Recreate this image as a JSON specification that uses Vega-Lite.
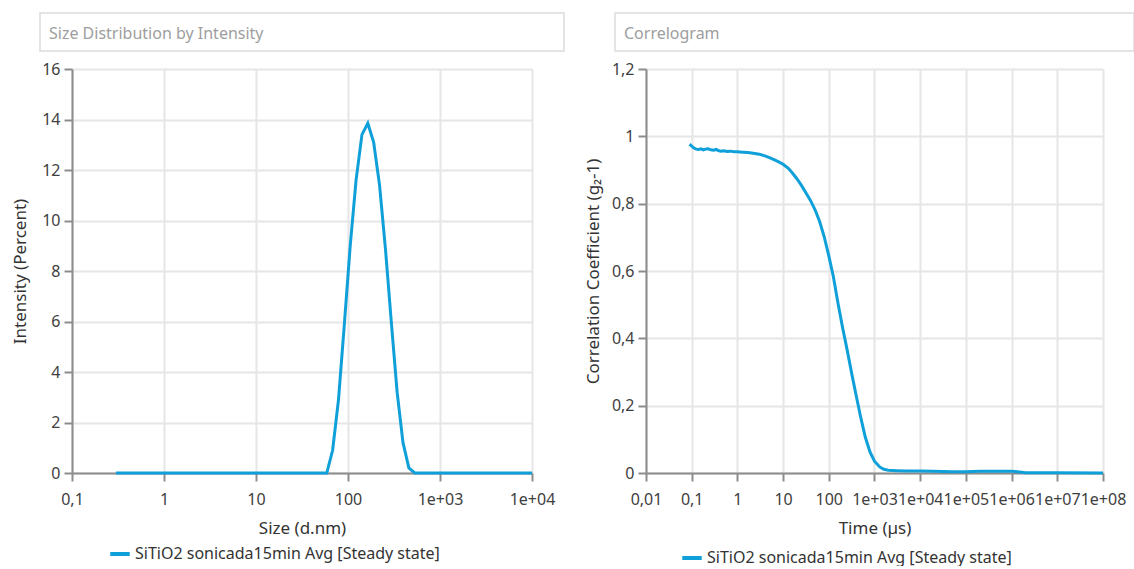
{
  "$schema": "https://vega.github.io/schema/vega-lite/v6.json",
  "background": "white",
  "padding": {"left": 11, "top": 12, "right": 0, "bottom": 0},
  "datasets": {
    "size": [
      {"size": 0.3, "intensity": 0}, {"size": 0.35, "intensity": 0}, {"size": 0.4, "intensity": 0}, {"size": 0.4632, "intensity": 0},
      {"size": 0.5365, "intensity": 0}, {"size": 0.6213, "intensity": 0}, {"size": 0.7195, "intensity": 0}, {"size": 0.8332, "intensity": 0},
      {"size": 0.9649, "intensity": 0}, {"size": 1.117, "intensity": 0}, {"size": 1.294, "intensity": 0}, {"size": 1.499, "intensity": 0},
      {"size": 1.736, "intensity": 0}, {"size": 2.01, "intensity": 0}, {"size": 2.328, "intensity": 0}, {"size": 2.696, "intensity": 0},
      {"size": 3.122, "intensity": 0}, {"size": 3.615, "intensity": 0}, {"size": 4.187, "intensity": 0}, {"size": 4.849, "intensity": 0},
      {"size": 5.615, "intensity": 0}, {"size": 6.503, "intensity": 0}, {"size": 7.531, "intensity": 0}, {"size": 8.721, "intensity": 0},
      {"size": 10.1, "intensity": 0}, {"size": 11.7, "intensity": 0}, {"size": 13.54, "intensity": 0}, {"size": 15.69, "intensity": 0},
      {"size": 18.17, "intensity": 0}, {"size": 21.04, "intensity": 0}, {"size": 24.36, "intensity": 0}, {"size": 28.21, "intensity": 0},
      {"size": 32.67, "intensity": 0}, {"size": 37.84, "intensity": 0}, {"size": 43.82, "intensity": 0}, {"size": 50.75, "intensity": 0},
      {"size": 58.77, "intensity": 0}, {"size": 68.06, "intensity": 0.9}, {"size": 78.82, "intensity": 2.9}, {"size": 91.28, "intensity": 5.9},
      {"size": 105.7, "intensity": 9.0}, {"size": 122.4, "intensity": 11.6}, {"size": 141.8, "intensity": 13.4}, {"size": 164.2, "intensity": 13.85},
      {"size": 190.1, "intensity": 13.1}, {"size": 220.2, "intensity": 11.4}, {"size": 255.0, "intensity": 8.9}, {"size": 295.3, "intensity": 6.0},
      {"size": 342.0, "intensity": 3.2}, {"size": 396.1, "intensity": 1.2}, {"size": 458.7, "intensity": 0.2}, {"size": 531.2, "intensity": 0},
      {"size": 615.1, "intensity": 0}, {"size": 712.4, "intensity": 0}, {"size": 825.0, "intensity": 0}, {"size": 955.4, "intensity": 0},
      {"size": 1106, "intensity": 0}, {"size": 1281, "intensity": 0}, {"size": 1484, "intensity": 0}, {"size": 1718, "intensity": 0},
      {"size": 1990, "intensity": 0}, {"size": 2305, "intensity": 0}, {"size": 2669, "intensity": 0}, {"size": 3091, "intensity": 0},
      {"size": 3580, "intensity": 0}, {"size": 4145, "intensity": 0}, {"size": 4801, "intensity": 0}, {"size": 5560, "intensity": 0},
      {"size": 6439, "intensity": 0}, {"size": 7456, "intensity": 0}, {"size": 8635, "intensity": 0}, {"size": 10000, "intensity": 0}
    ],
    "corr": [
      {"time": 0.09, "g": 0.977}, {"time": 0.1, "g": 0.971}, {"time": 0.11, "g": 0.966}, {"time": 0.125, "g": 0.962},
      {"time": 0.14, "g": 0.961}, {"time": 0.16, "g": 0.963}, {"time": 0.18, "g": 0.96}, {"time": 0.2, "g": 0.962},
      {"time": 0.23, "g": 0.963}, {"time": 0.26, "g": 0.96}, {"time": 0.3, "g": 0.959}, {"time": 0.34, "g": 0.961},
      {"time": 0.38, "g": 0.958}, {"time": 0.43, "g": 0.956}, {"time": 0.5, "g": 0.957}, {"time": 0.6, "g": 0.955},
      {"time": 0.7, "g": 0.956}, {"time": 0.85, "g": 0.954}, {"time": 1.0, "g": 0.954}, {"time": 1.3, "g": 0.953},
      {"time": 1.7, "g": 0.952}, {"time": 2.2, "g": 0.95}, {"time": 3.0, "g": 0.947}, {"time": 4.0, "g": 0.942},
      {"time": 5.0, "g": 0.937}, {"time": 6.5, "g": 0.93}, {"time": 8.0, "g": 0.924}, {"time": 10, "g": 0.917},
      {"time": 13, "g": 0.905}, {"time": 16, "g": 0.891}, {"time": 20, "g": 0.874}, {"time": 25, "g": 0.855},
      {"time": 32, "g": 0.831}, {"time": 40, "g": 0.809}, {"time": 50, "g": 0.782}, {"time": 63, "g": 0.747},
      {"time": 80, "g": 0.7}, {"time": 100, "g": 0.645}, {"time": 126, "g": 0.583}, {"time": 160, "g": 0.502},
      {"time": 200, "g": 0.432}, {"time": 250, "g": 0.368}, {"time": 320, "g": 0.293}, {"time": 400, "g": 0.228},
      {"time": 500, "g": 0.165}, {"time": 630, "g": 0.106}, {"time": 800, "g": 0.062}, {"time": 1000, "g": 0.035},
      {"time": 1300, "g": 0.018}, {"time": 1600, "g": 0.011}, {"time": 2000, "g": 0.008}, {"time": 3000, "g": 0.007},
      {"time": 5000, "g": 0.006}, {"time": 10000, "g": 0.006}, {"time": 20000, "g": 0.005}, {"time": 50000, "g": 0.004},
      {"time": 100000, "g": 0.004}, {"time": 200000, "g": 0.005}, {"time": 500000, "g": 0.005}, {"time": 1000000, "g": 0.005},
      {"time": 1500000, "g": 0.003}, {"time": 2000000, "g": 0.001}, {"time": 10000000, "g": 0.001}, {"time": 100000000, "g": 0.0}
    ]
  },
  "config": {
    "font": "Noto Sans",
    "view": {"stroke": null},
    "axis": {
      "labelFont": "Noto Sans", "labelFontSize": 16, "labelColor": "#404040",
      "titleFont": "Noto Sans", "titleFontSize": 17, "titleFontWeight": "normal", "titleColor": "#333333",
      "domainColor": "#8c8c8c", "domainWidth": 2, "tickColor": "#8c8c8c", "tickWidth": 2, "tickSize": 8,
      "gridColor": "#e6e6e6", "gridWidth": 2
    },
    "legend": {
      "symbolType": "stroke", "symbolSize": 380, "symbolStrokeWidth": 4, "labelLimit": 0,
      "labelFont": "Noto Sans", "labelFontSize": 16, "labelColor": "#333333", "labelOffset": 3, "padding": 0
    },
    "title": {"font": "Noto Sans", "fontSize": 16, "fontWeight": "normal", "color": "#9e9e9e"},
    "locale": {"number": {"decimal": ",", "thousands": ".", "grouping": [3], "currency": ["", " €"]}}
  },
  "resolve": {"scale": {"color": "independent"}, "legend": {"color": "independent"}},
  "spacing": 19,
  "hconcat": [
    {
      "spacing": 18,
      "bounds": "flush",
      "center": true,
      "resolve": {"scale": {"color": "independent"}, "legend": {"color": "independent"}},
      "vconcat": [
        {
          "width": 524, "height": 38,
          "view": {"stroke": "#dcdcdc", "strokeWidth": 1.5},
          "title": {"text": "Size Distribution by Intensity", "anchor": "start", "frame": "group", "baseline": "middle", "offset": -37, "dx": 9},
          "data": {"values": []},
          "mark": "text",
          "encoding": {}
        },
        {
          "width": 460, "height": 404,
          "data": {"name": "size"},
          "mark": {"type": "line", "strokeWidth": 3},
          "encoding": {
            "x": {"field": "size", "type": "quantitative",
              "scale": {"type": "log", "domain": [0.1, 10000], "nice": false},
              "axis": {"title": "Size (d.nm)", "values": [0.1, 1, 10, 100, 1000, 10000],
                "labelExpr": "datum.value >= 1000 ? replace(format(datum.value, '.0e'), 'e+', 'e+0') : format(datum.value, '~g')",
                "labelOverlap": false, "labelFlush": false, "labelPadding": 10, "titlePadding": 13}},
            "y": {"field": "intensity", "type": "quantitative",
              "scale": {"domain": [0, 16], "nice": false},
              "axis": {"title": "Intensity (Percent)", "values": [0, 2, 4, 6, 8, 10, 12, 14, 16], "format": "~g", "labelPadding": 4, "titlePadding": 12}},
            "color": {"datum": "SiTiO2 sonicada15min Avg [Steady state]", "type": "nominal",
              "scale": {"range": ["#0fa0da"]},
              "legend": {"title": null, "orient": "none", "legendX": 36, "legendY": 473, "direction": "horizontal"}}
          }
        }
      ]
    },
    {
      "spacing": 18,
      "bounds": "flush",
      "center": true,
      "resolve": {"scale": {"color": "independent"}, "legend": {"color": "independent"}},
      "vconcat": [
        {
          "width": 519, "height": 38,
          "view": {"stroke": "#dcdcdc", "strokeWidth": 1.5},
          "title": {"text": "Correlogram", "anchor": "start", "frame": "group", "baseline": "middle", "offset": -37, "dx": 9},
          "data": {"values": []},
          "mark": "text",
          "encoding": {}
        },
        {
          "width": 457, "height": 404,
          "data": {"name": "corr"},
          "mark": {"type": "line", "strokeWidth": 3},
          "encoding": {
            "x": {"field": "time", "type": "quantitative",
              "scale": {"type": "log", "domain": [0.01, 100000000], "nice": false},
              "axis": {"title": "Time (µs)", "values": [0.01, 0.1, 1, 10, 100, 1000, 10000, 100000, 1000000, 10000000, 100000000],
                "labelExpr": "datum.value >= 1000 ? replace(format(datum.value, '.0e'), 'e+', 'e+0') : format(datum.value, '~g')",
                "labelOverlap": false, "labelFlush": false, "labelBound": false, "labelPadding": 10, "titlePadding": 13}},
            "y": {"field": "g", "type": "quantitative",
              "scale": {"domain": [0, 1.2], "nice": false},
              "axis": {"title": "Correlation Coefficient (g₂-1)", "values": [0, 0.2, 0.4, 0.6, 0.8, 1, 1.2], "format": "~g", "labelPadding": 4, "titlePadding": 9}},
            "color": {"datum": "SiTiO2 sonicada15min Avg [Steady state]", "type": "nominal",
              "scale": {"range": ["#0fa0da"]},
              "legend": {"title": null, "orient": "none", "legendX": 34, "legendY": 477, "direction": "horizontal"}}
          }
        }
      ]
    }
  ]
}
